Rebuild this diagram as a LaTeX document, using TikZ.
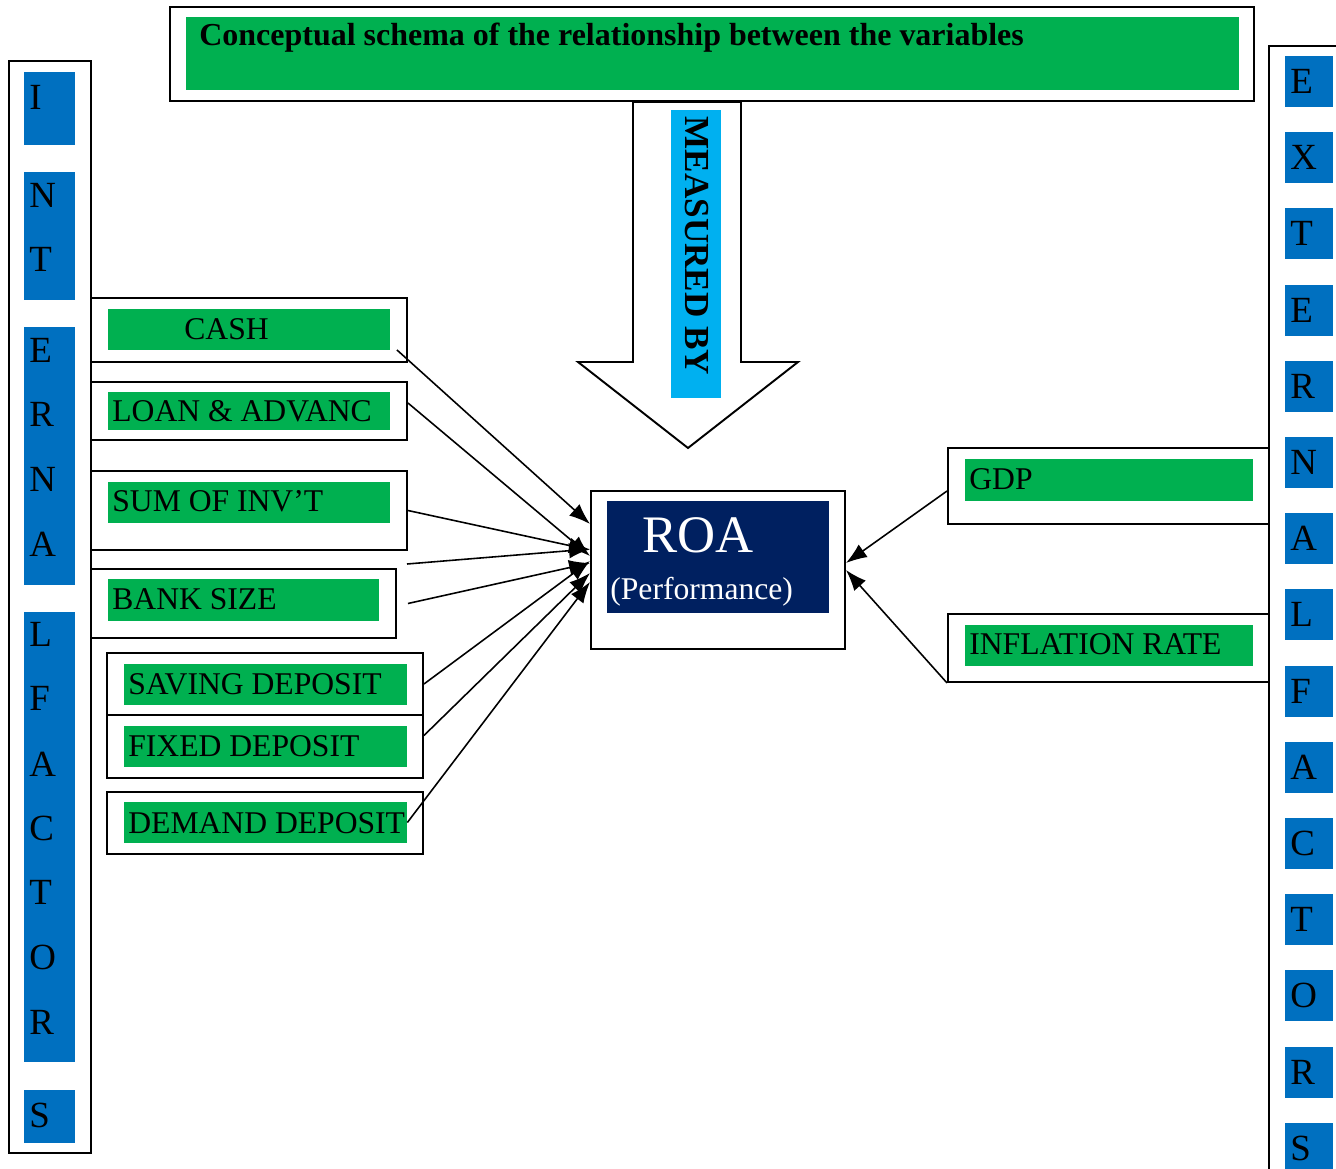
\documentclass[tikz,border=0pt]{standalone}
\usepackage{fontspec}
\setmainfont{Liberation Serif}
\usetikzlibrary{arrows.meta,calc,fit}
\definecolor{boxgreen}{HTML}{00B050}
\definecolor{colblue}{HTML}{0070C0}
\definecolor{skyblue}{HTML}{00B0F0}
\definecolor{navyroa}{HTML}{002060}
\tikzset{>=Latex,
  frame/.style={draw,line width=1.1pt,inner sep=0pt},
  greenfill/.style={fill=boxgreen,inner sep=0pt},
  itemtext/.style={font=\fontsize{18}{20}\selectfont,anchor=west,inner sep=0pt},
  colletter/.style={font=\fontsize{21}{24}\selectfont,anchor=west,inner sep=0pt},
  feed/.style={-{Latex[length=4.2mm,width=3.1mm]},line width=.9pt}}

\begin{document}
\begin{tikzpicture}[x=0.02cm,y=-0.02cm]
\useasboundingbox (0,0) rectangle (1336,1169);

% title
\node[frame,fit={(170,7) (1254,101)}] (title) {};
\node[greenfill,fit={(186,17) (1239,90)}] (titlefill) {};
\node[itemtext,font=\bfseries\fontsize{18.2}{20}\selectfont] (titletext) at (199,38)
  {Conceptual schema of the relationship between the variables};

% block arrow
\draw[line width=1.1pt,fill=white] (633,102) -- (633,362) -- (578,362) -- (688,448)
  -- (798,362) -- (741,362) -- (741,102) -- cycle;
\node[fill=skyblue,inner sep=0pt,fit={(671,110) (721,398)}] (measfill) {};
\node[rotate=-90,inner sep=0pt,font=\bfseries\fontsize{20}{22}\selectfont] (meas) at (697,246) {MEASURED BY};

% internal factors column
\draw[line width=1.1pt] (9,61) rectangle (91,1153);
\foreach \a/\b in {72/145,172/300,327/585,612/1062,1090/1143}
  \fill[colblue] (24,\a) rectangle (75,\b);
\foreach \l/\y in {I/97,N/195,T/259,E/350,R/414,N/479,A/544,L/634,F/698,A/764,C/828,T/892,O/957,R/1022,S/1115}
  \node[colletter] (int\y) at (29,\y) {\l};

% external factors column
\draw[line width=1.1pt] (1269,1190) -- (1269,46) -- (1350,46);
\foreach \l [count=\i] in {E,X,T,E,R,N,A,L,F,A,C,T,O,R,S}{
  \fill[colblue] (1285,{56+76.2*(\i-1)}) rectangle (1333,{107+76.2*(\i-1)});
  \node[colletter] (ext\i) at (1290,{81.5+76.2*(\i-1)}) {\l};
}

% internal variables
\node[frame,fit={(91,298) (407,362)}] (cash) {};
\node[greenfill,fit={(108,309) (390,350)}] (cashfill) {};
\node[itemtext] at (184,329) {CASH};

\node[frame,fit={(91,382) (407,440)}] (loan) {};
\node[greenfill,fit={(108,392) (390,430)}] (loanfill) {};
\node[itemtext] at (112,411) {LOAN \& ADVANC};

\node[frame,fit={(91,471) (407,550)}] (suminv) {};
\node[greenfill,fit={(108,482) (390,523)}] (suminvfill) {};
\node[itemtext] at (112,501) {SUM OF INV’T};

\node[frame,fit={(91,569) (396,638)}] (banksize) {};
\node[greenfill,fit={(108,579) (379,621)}] (banksizefill) {};
\node[itemtext] at (112,599) {BANK SIZE};

\node[frame,fit={(107,653) (423,715)}] (saving) {};
\node[greenfill,fit={(124,664) (407,705)}] (savingfill) {};
\node[itemtext] at (128,684) {SAVING DEPOSIT};

\node[frame,fit={(107,715) (423,778)}] (fixed) {};
\node[greenfill,fit={(124,726) (407,767)}] (fixedfill) {};
\node[itemtext] at (128,746) {FIXED DEPOSIT};

\node[frame,fit={(107,792) (423,854)}] (demand) {};
\node[greenfill,fit={(124,802) (407,843)}] (demandfill) {};
\node[itemtext] at (128,823) {DEMAND DEPOSIT};

% external variables
\node[frame,fit={(948,448) (1269,524)}] (gdp) {};
\node[greenfill,fit={(965,459) (1253,501)}] (gdpfill) {};
\node[itemtext] at (969,479) {GDP};

\node[frame,fit={(948,614) (1269,682)}] (inflation) {};
\node[greenfill,fit={(965,625) (1253,666)}] (inflationfill) {};
\node[itemtext] at (969,644) {INFLATION RATE};

% performance
\node[frame,fit={(591,491) (845,649)}] (roa) {};
\node[fill=navyroa,inner sep=0pt,fit={(607,501) (829,613)}] (roafill) {};
\node[text=white,inner sep=0pt,font=\fontsize{30}{32}\selectfont] at (698,535) {ROA};
\node[itemtext,text=white] at (610,592) {(Performance)};

% connectors
\coordinate (loose) at (407,564);
\draw[feed] ($(cash.south east)+(-11,-13)$) -- ($(roa.west)+(0,-46)$);
\draw[feed] ($(loan.east)+(0,-8)$) -- ($(roa.west)+(0,-14)$);
\draw[feed] (suminv.east) -- ($(roa.west)+(0,-20)$);
\draw[feed] (loose) -- ($(roa.west)+(0,-21)$);
\draw[feed] ($(banksize.east)+(11,0)$) -- ($(roa.west)+(0,-7)$);
\draw[feed] (saving.east) -- ($(roa.west)+(0,-9)$);
\draw[feed] ($(fixed.east)+(0,-11)$) -- ($(roa.west)+(0,3)$);
\draw[feed] (demandfill.east) -- ($(roa.west)+(0,12)$);
\draw[feed] ($(gdp.west)+(0,5)$) -- ($(roa.east)+(0,-7)$);
\draw[feed] (inflation.south west) -- (roa.east);
\end{tikzpicture}
\end{document}
